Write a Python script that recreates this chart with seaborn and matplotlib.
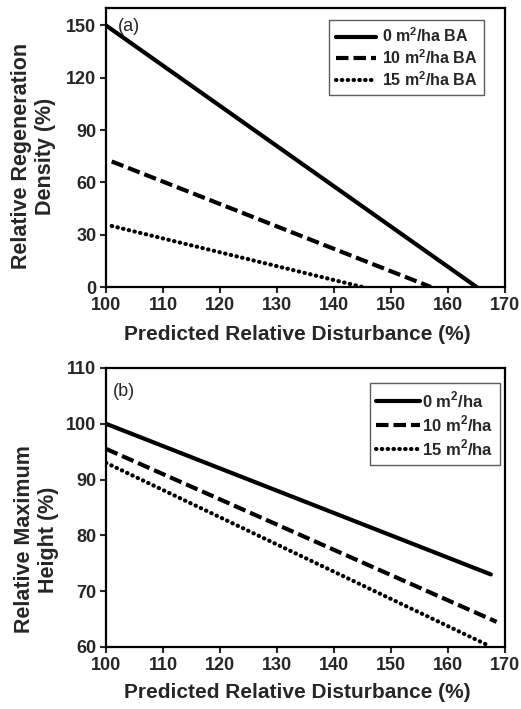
import matplotlib
matplotlib.use("Agg")
import matplotlib.pyplot as plt
import pandas as pd
import seaborn as sns

# panel (a) - relative regeneration density
dist_a = [100, 165, 101, 157, 101, 145]
dens_a = [150, 0, 72, 0, 35, 0]
grp_a = ['0', '0', '10', '10', '15', '15']

# panel (b) - relative maximum height
dist_b = [100, 167.5, 100, 168.5, 100, 167]
height_b = [100, 73, 95.5, 64.5, 93, 60.3]
grp_b = ['0', '0', '10', '10', '15', '15']

labels_a = [r'0 m$^{\mathbf{2}}$/ha BA', r'10 m$^{\mathbf{2}}$/ha BA', r'15 m$^{\mathbf{2}}$/ha BA']
labels_b = [r'0 m$^{\mathbf{2}}$/ha', r'10 m$^{\mathbf{2}}$/ha', r'15 m$^{\mathbf{2}}$/ha']

sns.set_style("ticks")
plt.rcParams['font.family'] = ['Liberation Sans', 'DejaVu Sans']
plt.rcParams['font.weight'] = 'bold'
plt.rcParams['mathtext.fontset'] = 'custom'
plt.rcParams['mathtext.rm'] = 'Liberation Sans:bold'
plt.rcParams['mathtext.bf'] = 'Liberation Sans:bold'

df_a = pd.DataFrame({'x': dist_a, 'y': dens_a, 'ba': grp_a})
df_b = pd.DataFrame({'x': dist_b, 'y': height_b, 'ba': grp_b})

fig = plt.figure(figsize=(5.21, 7.09), dpi=100)
ax1 = fig.add_axes([0.2035, 0.5952, 0.766, 0.3935])
ax2 = fig.add_axes([0.2035, 0.0875, 0.766, 0.3935])


def draw(ax, df, labels, anchor, fsize, hlen, textpad):
    for key, lab in zip(['0', '10', '15'], labels):
        sub = df[df.ba == key]
        sns.lineplot(data=sub, x='x', y='y', ax=ax, color='black', lw=3.0, label=lab)
        line = ax.get_lines()[-1]
        if key == '10':
            line.set_dashes([3.0, 1.2])
        elif key == '15':
            line.set_dashes([0.1, 1.3])
            line.set_dash_capstyle('round')
    for s in ax.spines.values():
        s.set_linewidth(1.6)
        s.set_color('black')
    ax.tick_params(direction='out', length=4, width=1.5, labelsize=13, pad=3)
    ax.set_xlabel('Predicted Relative Disturbance (%)', fontsize=15, fontweight='bold')
    leg = ax.legend(loc='upper right', frameon=True, fancybox=False, fontsize=fsize,
                    handlelength=hlen, handletextpad=textpad, labelspacing=0.2,
                    borderpad=0.4, borderaxespad=0, bbox_to_anchor=anchor)
    leg.get_frame().set_edgecolor('#333333')
    leg.get_frame().set_linewidth(1.0)


draw(ax1, df_a, labels_a, (0.947, 0.957), 11.5, 2.5, 0.4)
ax1.set_xlim(100, 170)
ax1.set_ylim(0, 160)
ax1.set_xticks(range(100, 171, 10))
ax1.set_yticks(range(0, 151, 30))
ax1.set_ylabel('Relative Regeneration\nDensity (%)', fontsize=15.5, fontweight='bold')
ax1.yaxis.set_label_coords(-0.125, 0.47)
ax1.xaxis.set_label_coords(0.48, -0.137)
ax1.text(0.03, 0.964, '(a)', transform=ax1.transAxes, fontsize=13, fontweight='normal', va='top')

draw(ax2, df_b, labels_b, (0.987, 0.946), 12, 2.6, 0.15)
ax2.set_xlim(100, 170)
ax2.set_ylim(60, 110)
ax2.set_xticks(range(100, 171, 10))
ax2.set_yticks(range(60, 111, 10))
ax2.set_ylabel('Relative Maximum\nHeight (%)', fontsize=15.5, fontweight='bold')
ax2.yaxis.set_label_coords(-0.118, 0.385)
ax2.xaxis.set_label_coords(0.48, -0.128)
ax2.text(0.018, 0.946, '(b)', transform=ax2.transAxes, fontsize=13, fontweight='normal', va='top')

for ax in (ax1, ax2):
    ax.xaxis.label.set_va('top')

fig.savefig('out.png', dpi=100)
